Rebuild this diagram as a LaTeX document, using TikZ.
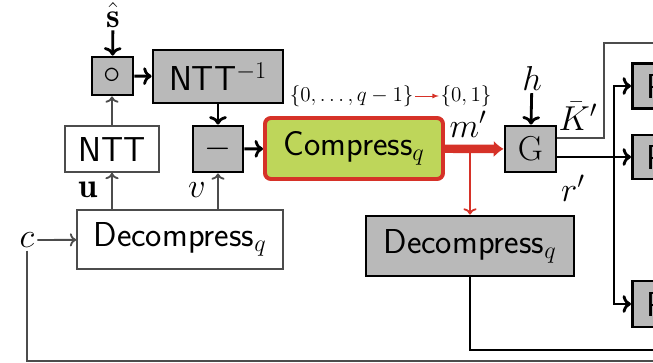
\documentclass[tikz,border=0pt]{standalone}
\usepackage{fix-cm}
\usepackage{amsmath,amssymb}
\usepackage{fontspec}
\usepackage{xcolor}
\usepackage{tikz}
\usetikzlibrary{shapes,arrows,arrows.meta,positioning,calc}

\definecolor{compgreen}{RGB}{190,214,90}
\definecolor{compred}{RGB}{214,50,40}

\tikzset{
  big/.style={font=\fontsize{24.6}{29}\selectfont\sffamily},
  mlabel/.style={font=\fontsize{24.6}{29}\selectfont,inner sep=2pt},
  slabel/.style={font=\fontsize{15}{18}\selectfont,inner sep=1pt},
  graybox/.style={draw,line width=2pt,fill=gray!55,inner sep=0pt,big},
  whitebox/.style={draw=black!70,line width=1.2pt,fill=white,inner sep=0pt,big},
  pbox/.style={graybox,anchor=west,minimum height=1.125cm,text width=1.4cm,align=left,inner xsep=0.35cm},
  thinline/.style={draw=black!70,line width=1.3pt},
  thinarrow/.style={thinline,->},
  thickline/.style={line width=2pt},
  thickarrow/.style={thickline,->}
}

\begin{document}
\begin{tikzpicture}
\useasboundingbox (0,0) rectangle (16.325,9.05);
\clip (0,0) rectangle (16.325,9.05);
% Boxes
\node[graybox,minimum width=1.025cm,minimum height=0.95cm] (circ) at (2.8125,7.15) {$\circ$};
\node[graybox,minimum width=3.25cm,minimum height=1.325cm] (intt) at (5.45,7.1375) {NTT$^{-1}$};
\node[whitebox,minimum width=2.35cm,minimum height=1.15cm] (ntt) at (2.8,5.325) {NTT};
\node[graybox,minimum width=1.25cm,minimum height=1.15cm] (sub) at (5.45,5.325) {$-$};
\node[draw=compred,line width=2.8pt,fill=compgreen,rounded corners=0.15cm,inner sep=0pt,
  minimum width=4.45cm,minimum height=1.525cm,big] (comp) at (8.85,5.3375) {Compress$_q$};
\node[graybox,minimum width=1.275cm,minimum height=1.15cm,mlabel] (g) at (13.2625,5.325) {$\mathrm{G}$};
\node[whitebox,minimum width=5.15cm,minimum height=1.475cm] (dec) at (4.5,3.0625) {Decompress$_q$};
\node[graybox,minimum width=5.2cm,minimum height=1.5cm] (decg) at (11.75,2.9) {Decompress$_q$};
\node[pbox] (p1) at (15.775,6.9) {P};
\node[pbox,minimum height=1.1cm] (p2) at (15.775,5.125) {P};
\node[pbox,minimum height=1.15cm] (p3) at (15.775,1.45) {P};
% Labels
\node[mlabel] (shat) at (2.825,8.68) {$\hat{\mathbf{s}}$};
\node[mlabel] (h) at (13.3,7.1) {$h$};
\node[mlabel] (cin) at (0.675,3.05) {$c$};
\node[mlabel] (u) at (2.2,4.3) {$\mathbf{u}$};
\node[mlabel] (v) at (4.925,4.3) {$v$};
\node[mlabel] (m) at (11.7,5.95) {$m'$};
\node[mlabel] (kbar) at (14.45,6.15) {$\bar{K}'$};
\node[mlabel] (r) at (14.325,4.35) {$r'$};
\node[slabel] (zq) at (8.79,6.65) {$\{0,\ldots,q-1\}$};
\node[slabel] (z2) at (11.65,6.65) {$\{0,1\}$};
% Connectors
\draw[thickarrow] (shat) -- (circ);
\draw[thickarrow] (circ) -- (intt);
\draw[thickarrow] (intt) -- (sub);
\draw[thickarrow] (sub) -- (comp);
\draw[thinarrow] (ntt.north) -- (ntt.north|-circ.south);
\draw[thinarrow] (ntt.south|-dec.north) -- (ntt.south);
\draw[thinarrow] (sub.south|-dec.north) -- (sub.south);
\draw[thinarrow] (cin) -- (dec);
\draw[compred,line width=0.6pt,-latex] (zq) -- (z2);
\draw[compred,line width=1.3pt,->] (decg.north|-comp.east) -- (decg.north);
\draw[compred,line width=6pt,-{Latex[length=7pt,width=12pt]}] (comp) -- (g);
\draw[thickarrow] (h) -- (g);
% Outputs of G
\coordinate (kbend) at (15.1,7.975);
\coordinate (kout) at (16.5,7.975);
\draw[thinline] ([yshift=0.275cm]g.east) -| (kbend) -- (kout);
\draw[thickarrow] ([yshift=-0.2cm]g.east) -- (p2.west);
\coordinate (rj) at (15.35,5.125);
\draw[thickarrow] (rj) |- (p1.west);
\draw[thickarrow] (rj) |- (p3.west);
% Returns
\coordinate (dend) at (16.5,0.3);
\draw[thickline] (decg.south) |- (dend);
\coordinate (cend) at (16.5,0.025);
\draw[thinline] (cin.south) |- (cend);
\end{tikzpicture}
\end{document}
